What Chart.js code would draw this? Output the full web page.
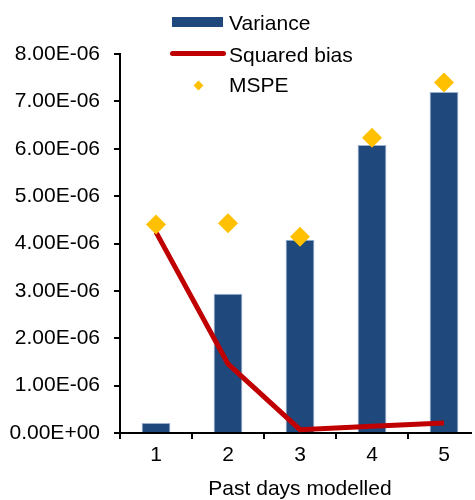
<!DOCTYPE html>
<html>
<head>
<meta charset="utf-8">
<script src="https://cdn.jsdelivr.net/npm/chart.js@4.4.1/dist/chart.umd.min.js"></script>
<style>
  body { margin: 0; background: #fff; overflow: hidden; }
  #wrap { position: relative; width: 472px; height: 500px; overflow: hidden; }
  #chart { position: absolute; left: 0; top: 0; }
  .lg { position: absolute; left: 229px; font: 21px "Liberation Sans", Arial, sans-serif; line-height: 1; color: #000; white-space: nowrap; }
  .sw { position: absolute; }
</style>
</head>
<body>
<div id="wrap">
  <canvas id="chart" width="490" height="500"></canvas>
  <div class="sw" style="left:172px;top:17px;width:51px;height:10px;background:#1F497D"></div>
  <div class="lg" id="lg0" style="top:12px"></div>
  <div class="sw" style="left:170px;top:51px;width:56px;height:5px;border-radius:3px;background:#C00000"></div>
  <div class="lg" id="lg1" style="top:44px"></div>
  <div class="sw" style="left:194.5px;top:81.5px;width:7px;height:7px;background:#FFC000;transform:rotate(45deg)"></div>
  <div class="lg" id="lg2" style="top:74px"></div>
</div>
<script>
// x categories: number of past days modelled
var days = ['1', '2', '3', '4', '5'];
var variance = [0.21e-6, 2.94e-6, 4.08e-6, 6.08e-6, 7.20e-6];
var squaredBias = [4.24e-6, 1.46e-6, 0.07e-6, 0.14e-6, 0.21e-6];
var mspe = [4.40e-6, 4.43e-6, 4.14e-6, 6.23e-6, 7.40e-6];
var yMin = 0, yMax = 8e-6, yStep = 1e-6;
var xTitle = 'Past days modelled';

function sci(v) {
  if (Math.abs(v) < 1e-12) return '0.00E+00';
  var parts = v.toExponential(2).split('e');
  var n = parseInt(parts[1], 10);
  return parts[0] + 'E' + (n < 0 ? '-' : '+') + String(Math.abs(n)).padStart(2, '0');
}

var font = { family: '"Liberation Sans", Arial, sans-serif', size: 21 };

var chart = new Chart(document.getElementById('chart').getContext('2d'), {
  data: {
    labels: days,
    datasets: [{
      type: 'bar',
      label: 'Variance',
      data: variance,
      backgroundColor: '#1F497D',
      borderColor: '#9AB0CC',
      borderWidth: 1,
      barPercentage: 0.4,
      categoryPercentage: 1,
      order: 3
    }, {
      type: 'line',
      label: 'Squared bias',
      data: squaredBias,
      borderColor: '#C00000',
      borderWidth: 5,
      pointRadius: 0,
      tension: 0,
      order: 2
    }, {
      type: 'line',
      label: 'MSPE',
      data: mspe,
      showLine: false,
      pointStyle: 'rectRot',
      pointRadius: 10,
      pointBorderWidth: 0,
      backgroundColor: '#FFC000',
      borderColor: '#FFC000',
      order: 1
    }]
  },
  options: {
    responsive: false,
    animation: false,
    layout: { padding: { top: 54, right: 5, left: 0, bottom: 0 } },
    plugins: {
      legend: { display: false },
      tooltip: { enabled: false }
    },
    scales: {
      x: {
        offset: true,
        grid: { drawOnChartArea: false, drawTicks: true, tickLength: 6, color: '#000', lineWidth: 2, offset: true },
        border: { color: '#000', width: 2 },
        ticks: { font: font, color: '#000', padding: 4, maxRotation: 0 },
        title: { display: true, text: xTitle, font: { family: font.family, size: 21, lineHeight: 1 }, color: '#000', padding: { top: 0, bottom: 0 } },
        afterFit: function (s) { s.height = 67; }
      },
      y: {
        min: yMin,
        max: yMax,
        grid: { drawOnChartArea: false, drawTicks: true, tickLength: 6, color: '#000', lineWidth: 2 },
        border: { color: '#000', width: 2 },
        ticks: { stepSize: yStep, font: font, color: '#000', padding: 14, callback: function (v) { return sci(v); } },
        afterFit: function (s) { s.width = 120; }
      }
    }
  }
});

chart.data.datasets.forEach(function (ds, i) {
  document.getElementById('lg' + i).textContent = ds.label;
});
</script>
</body>
</html>
